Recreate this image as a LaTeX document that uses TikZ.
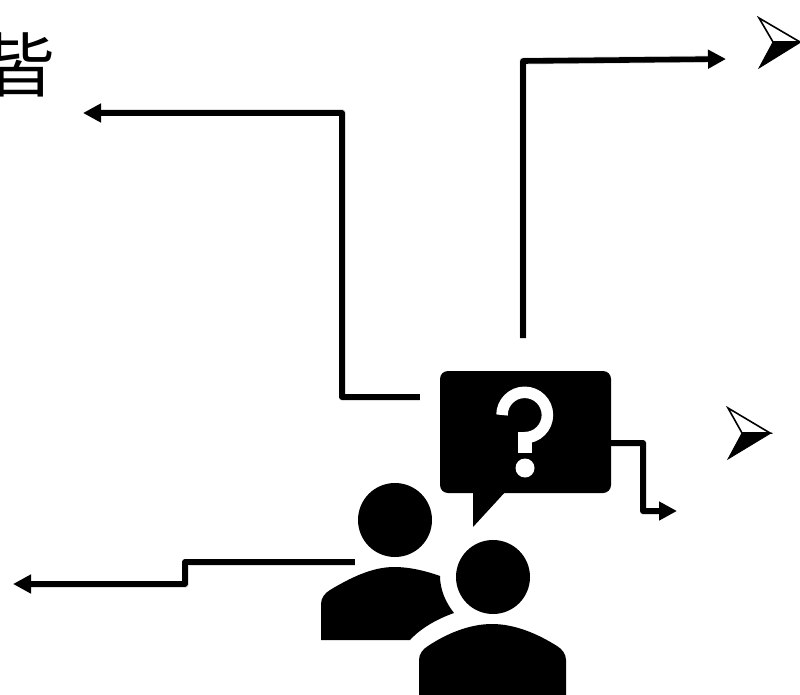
\documentclass[tikz,border=0pt]{standalone}
\usepackage{fontspec}
\newfontfamily\cjk{Noto Sans CJK JP}
\usetikzlibrary{arrows.meta}
\tikzset{
  flow/.style={line width=5.6pt,line join=round,-{Triangle[length=18pt,width=18pt]}},
  flowshadow/.style={line width=7pt,line join=round,draw=black,opacity=.13,shift={(1.5pt,-3pt)}},
  iconpart/.style={fill=black,draw=none},
  head/.style={circle,fill=black,minimum size=74pt,inner sep=0pt},
  bubblebox/.style={rectangle,fill=black,rounded corners=8pt,minimum width=171pt,minimum height=122pt,inner sep=0pt},
  bulletline/.style={draw=black,line width=1.6pt,line join=miter,fill=white},
  bulletfill/.style={fill=black,draw=black,line width=.8pt},
  glyph/.style={font=\cjk\fontsize{70pt}{70pt}\selectfont,inner sep=0pt}
}
\begin{document}
\begin{tikzpicture}[x=1pt,y=-1pt]
\useasboundingbox (0,0) rectangle (800,695);
\clip (0,0) rectangle (800,695);
\node[glyph] (word) at (21,65) {皆};
% connector end points
\coordinate (a1s) at (420,397); \coordinate (a1m) at (342,397); \coordinate (a1n) at (342,113); \coordinate (a1e) at (83,113);
\coordinate (a2s) at (523,338); \coordinate (a2m) at (523,61); \coordinate (a2e) at (726,59);
\coordinate (a3s) at (608,443); \coordinate (a3m) at (643,443); \coordinate (a3n) at (643,511); \coordinate (a3e) at (677,511);
\coordinate (a4s) at (355,562); \coordinate (a4m) at (185,562); \coordinate (a4n) at (185,584); \coordinate (a4e) at (13,584);
% soft shadows
\draw[flowshadow] (a1s) -- (a1m) -- (a1n) -- ([xshift=8pt]a1e);
\draw[flowshadow] (a2s) -- (a2m) -- ([xshift=-8pt]a2e);
\draw[flowshadow] (a3s) -- (a3m) -- (a3n) -- ([xshift=-8pt]a3e);
\draw[flowshadow] (a4s) -- (a4m) -- (a4n) -- ([xshift=8pt]a4e);
% connectors
\draw[flow] (a1s) -- (a1m) -- (a1n) -- (a1e);
\draw[flow] (a2s) -- (a2m) -- (a2e);
\draw[flow] (a3s) -- (a3m) -- (a3n) -- (a3e);
\draw[flow] (a4s) -- (a4m) -- (a4n) -- (a4e);
% speech bubble
\node[bubblebox] (bubble) at (525.5,432) {};
\fill[iconpart] (473,490) -- (473,527) -- (507,490) -- cycle;
\draw[white,line width=11.5pt] (502,415) arc[start angle=180,end angle=-90,radius=22.7pt];
\draw[white,line width=13.4pt] (525,432) -- (525,453);
\fill[white] (525,468) circle (9.5pt);
% people
\node[head] (head1) at (395,520) {};
\fill[iconpart] (321,640) -- (321,604) .. controls (321,598) and (325,593) .. (330,590)
  .. controls (350,578) and (372,567) .. (394,567)
  .. controls (410,567) and (426,571) .. (440,576)
  .. controls (440,590) and (446,603) .. (454,613)
  .. controls (437,619) and (421,628) .. (410,640) -- cycle;
\node[head] (head2) at (493,577) {};
\fill[iconpart] (419,695) -- (419,660) .. controls (419,654) and (423,649) .. (428,646)
  .. controls (446,634) and (469,624) .. (492,624)
  .. controls (515,624) and (538,634) .. (557,646)
  .. controls (562,649) and (566,654) .. (566,660) -- (566,695) -- cycle;
% bullets
\draw[bulletline] (759,18) -- (800,42) -- (773,42) -- cycle;
\fill[bulletfill] (773,42) -- (801,42) -- (759,68) -- cycle;
\draw[bulletline] (728,408) -- (770,433) -- (742,433) -- cycle;
\fill[bulletfill] (742,433) -- (771,433) -- (728,459) -- cycle;
\end{tikzpicture}
\end{document}
